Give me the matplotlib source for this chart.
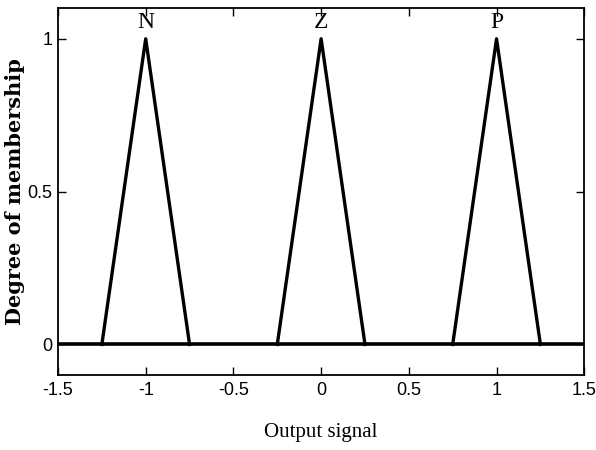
import matplotlib
matplotlib.use('Agg')
import matplotlib.pyplot as plt

# 隶属函数数据
labels = ['N', 'Z', 'P']
centers = [-1.0, 0.0, 1.0]
left_feet = [-1.25, -0.25, 0.75]
right_feet = [-0.75, 0.25, 1.25]
peak = 1.0
x_range = [-1.5, 1.5]
xticks = [-1.5, -1, -0.5, 0, 0.5, 1, 1.5]
xtick_labels = ['-1.5', '-1', '-0.5', '0', '0.5', '1', '1.5']
yticks = [0, 0.5, 1]
ytick_labels = ['0', '0.5', '1']

tick_font = ['Liberation Sans Narrow', 'Liberation Sans', 'DejaVu Sans']
serif_font = ['Liberation Serif', 'DejaVu Serif']

fig = plt.figure(figsize=(5.96, 4.5), dpi=100)
ax = fig.add_axes([0.0973, 0.1667, 0.883, 0.815])

# 基线
ax.plot(x_range, [0, 0], color='black', linewidth=2.6)

# 三角形
for lab, c, a, b in zip(labels, centers, left_feet, right_feet):
    ax.plot([a, c, b], [0, peak, 0], color='black', linewidth=2.4)
    ax.text(c, 1.02, lab, ha='center', va='bottom', fontsize=17,
            family=serif_font)

ax.set_xlim(-1.5, 1.5)
ax.set_ylim(-0.1, 1.1)
ax.set_xticks(xticks)
ax.set_xticklabels(xtick_labels, family=tick_font, fontsize=13)
ax.set_yticks(yticks)
ax.set_yticklabels(ytick_labels, family=tick_font, fontsize=13)
ax.tick_params(direction='in', length=6, width=1, top=True, right=True, pad=5)
ax.tick_params(axis='y', pad=4)
for sp in ax.spines.values():
    sp.set_linewidth(1.3)

ax.set_xlabel('Output signal', family=serif_font, fontsize=15, labelpad=17)
ax.set_ylabel('Degree of membership', family=['DejaVu Serif'], fontsize=15,
              fontweight='bold')
ax.yaxis.set_label_coords(-0.062, 0.5)

fig.savefig('out.png', dpi=100)
